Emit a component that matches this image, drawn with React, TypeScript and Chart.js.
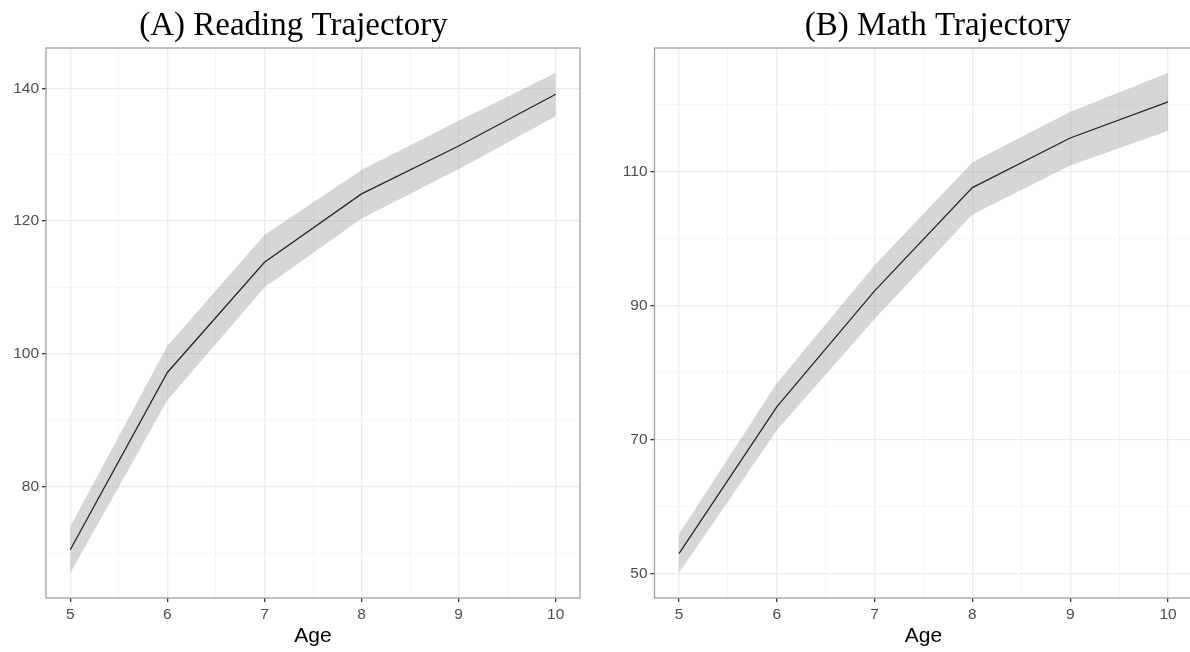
import React, { useEffect, useRef } from 'react';
import { Chart, registerables } from 'chart.js';

Chart.register(...registerables);

// ---- data ----
const ages = [5, 6, 7, 8, 9, 10];
const xGridTicks = [5, 5.5, 6, 6.5, 7, 7.5, 8, 8.5, 9, 9.5, 10];

const readingMean = [70.5, 97.2, 113.8, 124.1, 131.3, 139.1];
const readingLower = [67.0, 93.0, 110.0, 120.4, 127.8, 135.8];
const readingUpper = [74.0, 101.2, 117.9, 127.7, 135.1, 142.3];
const readingGridTicks = [70, 80, 90, 100, 110, 120, 130, 140];
const readingTickLabels = [80, 100, 120, 140];

const mathMean = [53.0, 74.9, 92.2, 107.6, 115.0, 120.4];
const mathLower = [50.1, 71.4, 88.0, 103.6, 110.9, 116.1];
const mathUpper = [55.9, 78.4, 96.0, 111.4, 118.9, 124.7];
const mathGridTicks = [50, 60, 70, 80, 90, 100, 110, 120];
const mathTickLabels = [50, 70, 90, 110];

const readingTitle = '(A) Reading Trajectory';
const mathTitle = '(B) Math Trajectory';
const xTitle = 'Age';

// ---- layout ----
const PAGE_W = 1190;
const PAGE_H = 652;
const SANS = '"Liberation Sans", Arial, sans-serif';
const SERIF = '"Liberation Serif", "Times New Roman", serif';

const panelBorder = {
  id: 'panelBorder',
  afterDraw(chart: any) {
    const { ctx, chartArea: a } = chart;
    ctx.save();
    ctx.strokeStyle = '#9E9E9E';
    ctx.lineWidth = 1.3;
    ctx.strokeRect(a.left, a.top, a.right - a.left, a.bottom - a.top);
    ctx.restore();
  },
};

const makeTitle = (text: string, cx: number) => ({
  id: 'panelTitle',
  afterDraw(chart: any) {
    const ctx = chart.ctx;
    ctx.save();
    ctx.font = `33px ${SERIF}`;
    ctx.fillStyle = '#000';
    ctx.textAlign = 'center';
    ctx.textBaseline = 'middle';
    ctx.fillText(text, cx, 26);
    ctx.restore();
  },
});

interface PanelProps {
  left: number;
  width: number;
  axisWidth: number;
  padRight: number;
  titleX: number;
  title: string;
  mean: number[];
  lower: number[];
  upper: number[];
  yGrid: number[];
  yLabels: number[];
}

function Panel(p: PanelProps) {
  const ref = useRef<HTMLCanvasElement | null>(null);
  useEffect(() => {
    if (!ref.current) return;
    const lo = Math.min(...p.lower);
    const hi = Math.max(...p.upper);
    const yMin = lo - 0.05 * (hi - lo);
    const yMax = hi + 0.05 * (hi - lo);
    const span = ages[ages.length - 1] - ages[0];
    const xMin = ages[0] - 0.05 * span;
    const xMax = ages[ages.length - 1] + 0.05 * span;
    const pts = (arr: number[]) => ages.map((x, i) => ({ x, y: arr[i] }));
    const isMajorX = (v: number) => ages.includes(v);
    const isMajorY = (v: number) => p.yLabels.includes(v);

    const chart = new Chart(ref.current, {
      type: 'line',
      data: {
        datasets: [
          {
            data: pts(p.mean),
            borderColor: '#262626',
            borderWidth: 1.3,
            pointRadius: 0,
            fill: false,
            tension: 0,
            order: 0,
          },
          {
            data: pts(p.upper),
            borderWidth: 0,
            borderColor: 'rgba(0,0,0,0)',
            pointRadius: 0,
            fill: '+1',
            backgroundColor: 'rgba(153,153,153,0.4)',
            tension: 0,
            order: 1,
          },
          {
            data: pts(p.lower),
            borderWidth: 0,
            borderColor: 'rgba(0,0,0,0)',
            pointRadius: 0,
            fill: false,
            tension: 0,
            order: 2,
          },
        ],
      },
      options: {
        animation: false,
        responsive: false,
        events: [],
        layout: { padding: { left: 0, right: p.padRight, top: 48, bottom: 0 } },
        plugins: {
          legend: { display: false },
          tooltip: { enabled: false },
          title: { display: false },
        },
        scales: {
          x: {
            type: 'linear',
            min: xMin,
            max: xMax,
            afterBuildTicks: (s: any) => {
              s.ticks = xGridTicks.map((v) => ({ value: v }));
            },
            afterFit: (s: any) => {
              s.height = 54;
            },
            border: { display: false },
            grid: {
              color: (c: any) => (c.tick && isMajorX(c.tick.value) ? '#EBEBEB' : '#F3F3F3'),
              lineWidth: (c: any) => (c.tick && isMajorX(c.tick.value) ? 1.3 : 0.8),
              tickColor: (c: any) => (c.tick && isMajorX(c.tick.value) ? '#333333' : 'rgba(0,0,0,0)'),
              tickLength: 4,
            },
            ticks: {
              autoSkip: false,
              maxRotation: 0,
              padding: 3,
              color: '#4D4D4D',
              font: { family: SANS, size: 15.5 },
              callback: (v: any) => (isMajorX(Number(v)) ? String(v) : ''),
            },
            title: {
              display: true,
              text: xTitle,
              color: '#000',
              font: { family: SANS, size: 21, lineHeight: 1.2 },
              padding: { top: 0, bottom: 3 },
            },
          },
          y: {
            type: 'linear',
            min: yMin,
            max: yMax,
            afterBuildTicks: (s: any) => {
              s.ticks = p.yGrid.map((v) => ({ value: v }));
            },
            afterFit: (s: any) => {
              s.width = p.axisWidth;
            },
            border: { display: false },
            grid: {
              color: (c: any) => (c.tick && isMajorY(c.tick.value) ? '#EBEBEB' : '#F3F3F3'),
              lineWidth: (c: any) => (c.tick && isMajorY(c.tick.value) ? 1.3 : 0.8),
              tickColor: (c: any) => (c.tick && isMajorY(c.tick.value) ? '#333333' : 'rgba(0,0,0,0)'),
              tickLength: 4,
            },
            ticks: {
              autoSkip: false,
              padding: 3,
              color: '#4D4D4D',
              font: { family: SANS, size: 15.5 },
              callback: (v: any) => (isMajorY(Number(v)) ? String(v) : ''),
            },
          },
        },
      } as any,
      plugins: [panelBorder, makeTitle(p.title, p.titleX)],
    });
    return () => chart.destroy();
  }, []);

  return (
    <canvas
      ref={ref}
      width={p.width}
      height={PAGE_H}
      style={{ position: 'absolute', left: p.left, top: 0, width: p.width, height: PAGE_H }}
    />
  );
}

export default function App() {
  return (
    <div
      style={{
        position: 'fixed',
        left: 0,
        top: 0,
        width: PAGE_W,
        height: PAGE_H,
        overflow: 'hidden',
        background: '#fff',
      }}
    >
      <Panel
        left={0}
        width={600}
        axisWidth={46}
        padRight={20}
        titleX={293.5}
        title={readingTitle}
        mean={readingMean}
        lower={readingLower}
        upper={readingUpper}
        yGrid={readingGridTicks}
        yLabels={readingTickLabels}
      />
      <Panel
        left={608}
        width={600}
        axisWidth={46.5}
        padRight={15.5}
        titleX={330}
        title={mathTitle}
        mean={mathMean}
        lower={mathLower}
        upper={mathUpper}
        yGrid={mathGridTicks}
        yLabels={mathTickLabels}
      />
    </div>
  );
}
